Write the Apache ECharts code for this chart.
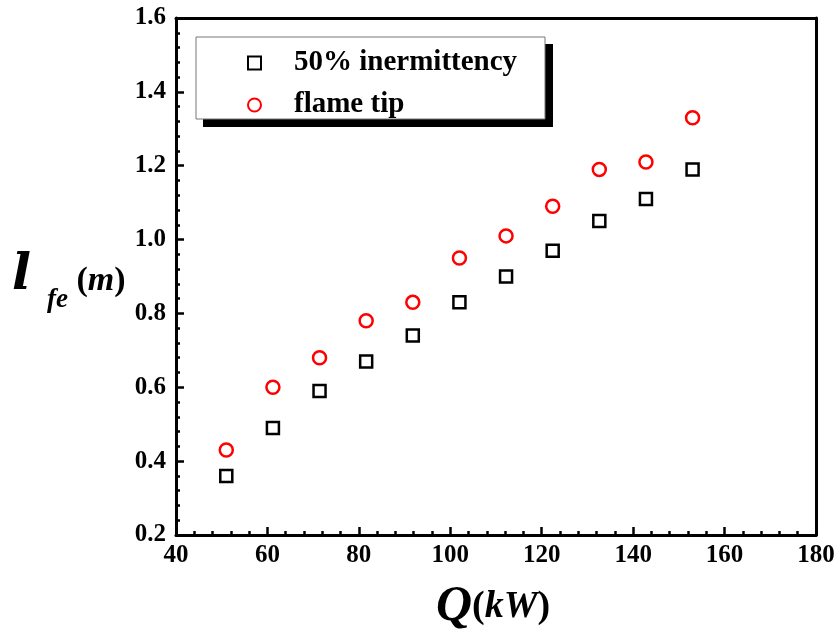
<!DOCTYPE html>
<html lang="en">
<head>
  <meta charset="UTF-8">
  <title>Flame length</title>
  <script src="https://cdn.jsdelivr.net/npm/echarts@6.0.0/dist/echarts.min.js"></script>
  <style>
    html, body { margin: 0; padding: 0; background: #fff; }
    #chart { width: 838px; height: 632px; }
  </style>
</head>
<body>
  <div id="chart"></div>
  <script>
    // heat release rate Q (kW)
    const qValues = [51, 61.2, 71.4, 81.6, 91.8, 102, 112.2, 122.4, 132.6, 142.8, 153];
    // flame length at 50% intermittency (m)
    const interm50 = [0.36, 0.49, 0.59, 0.67, 0.74, 0.83, 0.90, 0.97, 1.05, 1.11, 1.19];
    // flame tip length (m)
    const flameTip = [0.43, 0.60, 0.68, 0.78, 0.83, 0.95, 1.01, 1.09, 1.19, 1.21, 1.33];
    const seriesNames = ['50% inermittency', 'flame tip'];

    const font = '"Liberation Serif", "Times New Roman", serif';
    const chart = echarts.init(document.getElementById('chart'));

    const lineStyle = { color: '#000', width: 3 };
    const tickStyle = { color: '#000', width: 2.5 };
    const labelStyle = { color: '#000', fontFamily: font, fontWeight: 'bold', fontSize: 25 };

    const option = {
      animation: false,
      backgroundColor: '#fff',
      grid: { left: 176, right: 22, top: 18, bottom: 97 },
      xAxis: [
        {
          type: 'value', min: 40, max: 180, interval: 20, position: 'bottom',
          axisLine: { show: true, onZero: false, lineStyle: lineStyle },
          axisTick: { show: true, inside: true, length: 8, lineStyle: tickStyle },
          minorTick: { show: true, splitNumber: 5, length: 4, lineStyle: tickStyle },
          splitLine: { show: false },
          axisLabel: Object.assign({ margin: 8 }, labelStyle)
        },
        {
          type: 'value', min: 40, max: 180, interval: 20, position: 'top',
          axisLine: { show: true, onZero: false, lineStyle: lineStyle },
          axisTick: { show: false }, axisLabel: { show: false }, splitLine: { show: false }
        }
      ],
      yAxis: [
        {
          type: 'value', min: 0.2, max: 1.6, interval: 0.2, position: 'left',
          axisLine: { show: true, onZero: false, lineStyle: lineStyle },
          axisTick: { show: true, inside: true, length: 8, lineStyle: tickStyle },
          minorTick: { show: true, splitNumber: 5, length: 4, lineStyle: tickStyle },
          splitLine: { show: false },
          axisLabel: Object.assign({ margin: 10, formatter: v => v.toFixed(1) }, labelStyle)
        },
        {
          type: 'value', min: 0.2, max: 1.6, interval: 0.2, position: 'right',
          axisLine: { show: true, onZero: false, lineStyle: lineStyle },
          axisTick: { show: false }, axisLabel: { show: false }, splitLine: { show: false }
        }
      ],
      legend: {
        orient: 'vertical',
        left: 242, top: 43, z: 100,
        itemWidth: 13, itemHeight: 13,
        itemGap: 12,
        textStyle: {
          color: '#000', fontFamily: font, fontWeight: 'bold', fontSize: 29,
          lineHeight: 30, padding: [0, 0, 0, 28]
        },
        data: seriesNames
      },
      graphic: [
        { type: 'rect', z: 90, shape: { x: 203, y: 44, width: 350, height: 83 }, style: { fill: '#000' } },
        { type: 'rect', z: 91, shape: { x: 196, y: 37, width: 349, height: 82 }, style: { fill: '#fff', stroke: '#777', lineWidth: 1 } },
        {
          type: 'text', left: 12, top: 251, z: 100,
          style: {
            text: '{l|l}{s|fe}{p| (}{m|m}{p|)}',
            rich: {
              l: { fontFamily: '"DejaVu Serif", serif', fontStyle: 'italic', fontWeight: 'bold', fontSize: 50, fill: '#000' },
              s: { fontFamily: font, fontStyle: 'italic', fontWeight: 'bold', fontSize: 27, fill: '#000', padding: [48, 0, 0, 16] },
              p: { fontFamily: font, fontWeight: 'bold', fontSize: 34, fill: '#000', padding: [10, 0, 0, 0] },
              m: { fontFamily: font, fontStyle: 'italic', fontWeight: 'bold', fontSize: 34, fill: '#000', padding: [10, 0, 0, 0] }
            }
          }
        },
        {
          type: 'text', left: 436, top: 582, z: 100,
          style: {
            text: '{q|Q}{p|(}{k|kW}{p|)}',
            rich: {
              q: { fontFamily: font, fontStyle: 'italic', fontWeight: 'bold', fontSize: 50, fill: '#000' },
              p: { fontFamily: font, fontWeight: 'bold', fontSize: 38, fill: '#000' },
              k: { fontFamily: font, fontStyle: 'italic', fontWeight: 'bold', fontSize: 38, fill: '#000' }
            }
          }
        }
      ],
      series: [
        {
          name: seriesNames[0], type: 'scatter', symbol: 'rect', symbolSize: 12, z: 5,
          itemStyle: { color: '#fff', borderColor: '#000', borderWidth: 2.5, opacity: 1 },
          data: qValues.map((q, i) => [q, interm50[i]])
        },
        {
          name: seriesNames[1], type: 'scatter', symbol: 'circle', symbolSize: 13, z: 5,
          itemStyle: { color: '#fff', borderColor: '#f00', borderWidth: 2.5, opacity: 1 },
          data: qValues.map((q, i) => [q, flameTip[i]])
        }
      ]
    };

    chart.setOption(option);
  </script>
</body>
</html>
